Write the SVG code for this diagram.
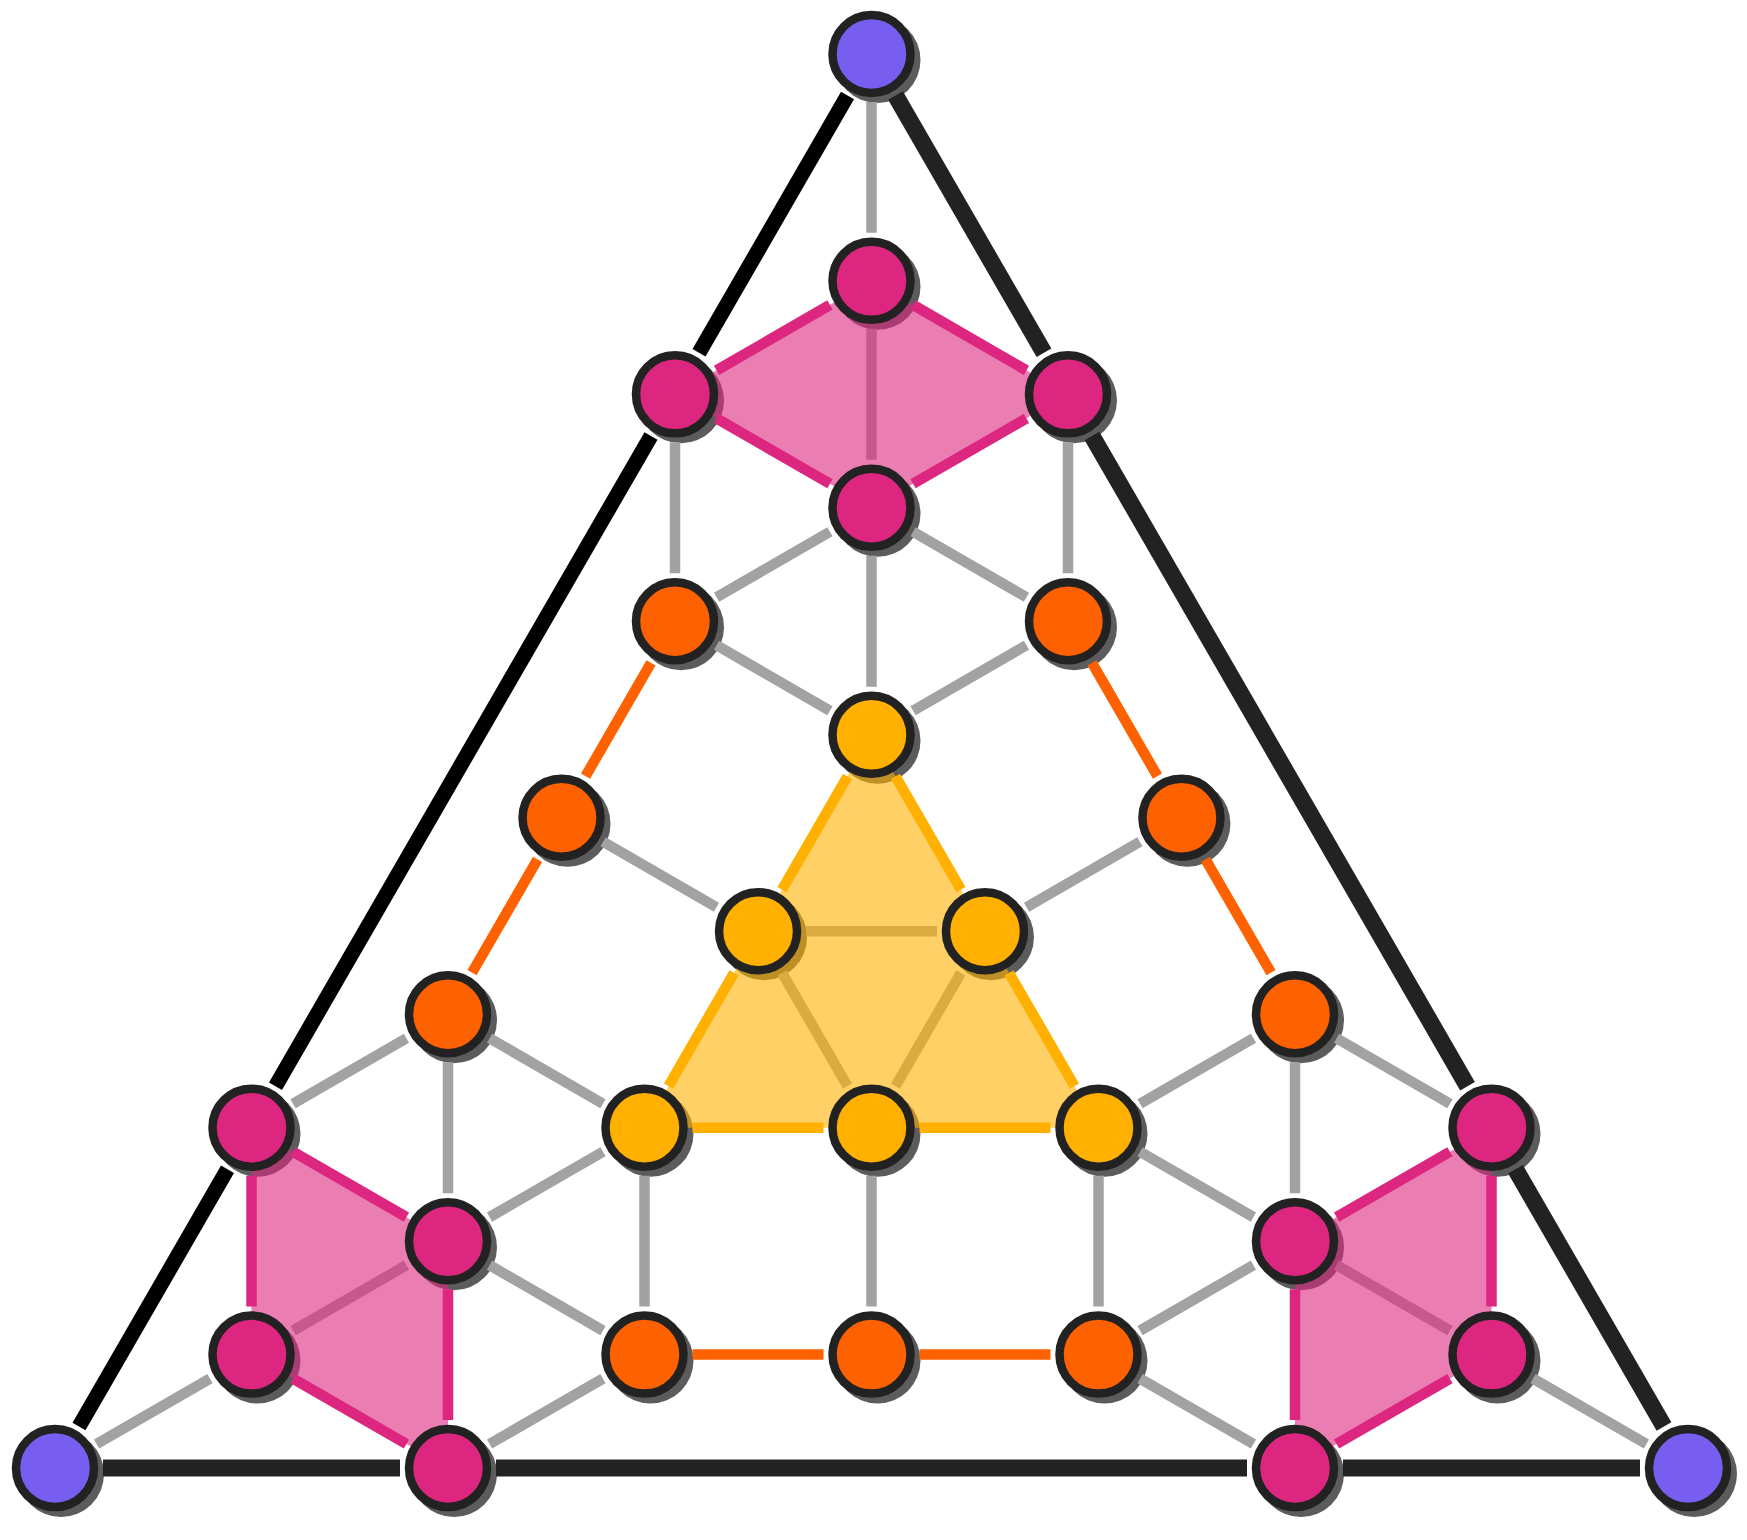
<svg xmlns="http://www.w3.org/2000/svg" width="1747" height="1540" viewBox="0 0 1747 1540">
<style>
.sh{fill:#5c5c5c}
.n{stroke:#222222;stroke-width:8.5}
.pu{fill:#785EF0}
.pk{fill:#DC267F}
.or{fill:#FE6100}
.ye{fill:#FFB000}
.g line{stroke:#a2a2a2;stroke-width:10.5}
.pe line{stroke:#DC267F;stroke-width:10.5}
.oe line{stroke:#FE6100;stroke-width:10.5}
.ys line{stroke:#FFB000;stroke-width:10.5}
.bl line{stroke:#000000;stroke-width:15}
.bk line{stroke:#222222;stroke-width:17}
.fp{fill:#DC267F;fill-opacity:0.6}
.fy{fill:#FFB000;fill-opacity:0.6}
</style>
<rect width="1747" height="1540" fill="#ffffff"/>
<g id="shadows" class="sh">
<circle cx="877.5" cy="60" r="43"/><circle cx="61" cy="1474" r="43"/><circle cx="1694" cy="1474" r="43"/>
<circle cx="877.5" cy="286.85" r="43"/><circle cx="681" cy="400.35" r="43"/><circle cx="1074" cy="400.35" r="43"/><circle cx="877.5" cy="513.8" r="43"/>
<circle cx="257.5" cy="1133.7" r="43"/><circle cx="454" cy="1247.15" r="43"/><circle cx="257.5" cy="1360.6" r="43"/><circle cx="454" cy="1474.05" r="43"/>
<circle cx="1497.5" cy="1133.7" r="43"/><circle cx="1301" cy="1247.15" r="43"/><circle cx="1497.5" cy="1360.6" r="43"/><circle cx="1301" cy="1474.05" r="43"/>
<circle cx="681" cy="627.25" r="43"/><circle cx="1074" cy="627.25" r="43"/><circle cx="567.55" cy="823.75" r="43"/><circle cx="1187.45" cy="823.75" r="43"/>
<circle cx="454" cy="1020.25" r="43"/><circle cx="1301" cy="1020.25" r="43"/><circle cx="650.5" cy="1360.6" r="43"/><circle cx="877.5" cy="1360.6" r="43"/><circle cx="1104.5" cy="1360.6" r="43"/>
<circle cx="877.5" cy="740.7" r="43"/><circle cx="764.05" cy="937.2" r="43"/><circle cx="990.95" cy="937.2" r="43"/><circle cx="650.5" cy="1133.7" r="43"/><circle cx="877.5" cy="1133.7" r="43"/><circle cx="1104.5" cy="1133.7" r="43"/>
</g>
<g id="connectors">
<g class="g">
<line x1="871.5" y1="102" x2="871.5" y2="232.85"/>
<line x1="675" y1="442.35" x2="675" y2="573.25"/>
<line x1="1068" y1="442.35" x2="1068" y2="573.25"/>
<line x1="829.93" y1="531.8" x2="716.57" y2="597.25"/>
<line x1="913.07" y1="531.8" x2="1026.43" y2="597.25"/>
<line x1="871.5" y1="555.8" x2="871.5" y2="686.7"/>
<line x1="716.57" y1="645.25" x2="829.93" y2="710.7"/>
<line x1="1026.43" y1="645.25" x2="913.07" y2="710.7"/>
<line x1="603.12" y1="841.75" x2="716.48" y2="907.2"/>
<line x1="1139.88" y1="841.75" x2="1026.52" y2="907.2"/>
<line x1="406.43" y1="1038.25" x2="293.07" y2="1103.7"/>
<line x1="489.57" y1="1038.25" x2="602.93" y2="1103.7"/>
<line x1="448" y1="1062.25" x2="448" y2="1193.15"/>
<line x1="1336.57" y1="1038.25" x2="1449.93" y2="1103.7"/>
<line x1="1253.43" y1="1038.25" x2="1140.07" y2="1103.7"/>
<line x1="1295" y1="1062.25" x2="1295" y2="1193.15"/>
<line x1="602.93" y1="1151.7" x2="489.57" y2="1217.15"/>
<line x1="644.5" y1="1175.7" x2="644.5" y2="1306.6"/>
<line x1="871.5" y1="1175.7" x2="871.5" y2="1306.6"/>
<line x1="1140.07" y1="1151.7" x2="1253.43" y2="1217.15"/>
<line x1="1098.5" y1="1175.7" x2="1098.5" y2="1306.6"/>
<line x1="489.57" y1="1265.15" x2="602.93" y2="1330.6"/>
<line x1="602.93" y1="1378.6" x2="489.57" y2="1444.05"/>
<line x1="209.93" y1="1378.6" x2="96.57" y2="1444.05"/>
<line x1="1140.07" y1="1330.6" x2="1253.43" y2="1265.15"/>
<line x1="1140.07" y1="1378.6" x2="1253.43" y2="1444.05"/>
<line x1="1533.07" y1="1378.6" x2="1646.43" y2="1444.05"/>
<line x1="871.5" y1="328.85" x2="871.5" y2="459.8"/>
<line x1="293.07" y1="1330.6" x2="406.43" y2="1265.15"/>
<line x1="1336.57" y1="1265.15" x2="1449.93" y2="1330.6"/>
<line x1="806.05" y1="931.2" x2="936.95" y2="931.2"/>
<line x1="782.05" y1="972.77" x2="847.5" y2="1086.13"/>
<line x1="960.95" y1="972.77" x2="895.5" y2="1086.13"/>
</g>
<g id="fills">
<polygon class="fp" points="871.5,280.85 1068,394.35 871.5,507.8 675,394.35"/>
<polygon class="fp" points="251.5,1127.7 448,1241.15 448,1468.05 251.5,1354.6"/>
<polygon class="fp" points="1491.5,1127.7 1295,1241.15 1295,1468.05 1491.5,1354.6"/>
<polygon class="fy" points="871.5,734.7 1098.5,1127.7 644.5,1127.7"/>
</g>
<g class="pe">
<line x1="829.93" y1="304.85" x2="716.57" y2="370.35"/>
<line x1="913.07" y1="304.85" x2="1026.43" y2="370.35"/>
<line x1="716.57" y1="418.35" x2="829.93" y2="483.8"/>
<line x1="1026.43" y1="418.35" x2="913.07" y2="483.8"/>
<line x1="293.07" y1="1151.7" x2="406.43" y2="1217.15"/>
<line x1="448" y1="1289.15" x2="448" y2="1420.05"/>
<line x1="406.43" y1="1444.05" x2="293.07" y2="1378.6"/>
<line x1="251.5" y1="1306.6" x2="251.5" y2="1175.7"/>
<line x1="1449.93" y1="1151.7" x2="1336.57" y2="1217.15"/>
<line x1="1295" y1="1289.15" x2="1295" y2="1420.05"/>
<line x1="1336.57" y1="1444.05" x2="1449.93" y2="1378.6"/>
<line x1="1491.5" y1="1306.6" x2="1491.5" y2="1175.7"/>
</g>
<g class="oe">
<line x1="651" y1="662.82" x2="585.55" y2="776.18"/>
<line x1="537.55" y1="859.32" x2="472" y2="972.68"/>
<line x1="1092" y1="662.82" x2="1157.45" y2="776.18"/>
<line x1="1205.45" y1="859.32" x2="1271" y2="972.68"/>
<line x1="692.5" y1="1354.6" x2="823.5" y2="1354.6"/>
<line x1="919.5" y1="1354.6" x2="1050.5" y2="1354.6"/>
</g>
<g class="ys">
<line x1="847.5" y1="776.27" x2="782.05" y2="889.63"/>
<line x1="734.05" y1="972.77" x2="668.5" y2="1086.13"/>
<line x1="895.5" y1="776.27" x2="960.95" y2="889.63"/>
<line x1="1008.95" y1="972.77" x2="1074.5" y2="1086.13"/>
<line x1="692.5" y1="1127.7" x2="823.5" y2="1127.7"/>
<line x1="919.5" y1="1127.7" x2="1050.5" y2="1127.7"/>
</g>
<g class="bl">
<line x1="847.5" y1="95.57" x2="699" y2="352.78"/>
<line x1="651" y1="435.92" x2="275.5" y2="1086.13"/>
<line x1="227.5" y1="1169.27" x2="79" y2="1426.48"/>
</g>
<g class="bk">
<line x1="895.5" y1="95.57" x2="1044" y2="352.78"/>
<line x1="1092" y1="435.92" x2="1467.5" y2="1086.13"/>
<line x1="1515.5" y1="1169.27" x2="1664" y2="1426.48"/>
<line x1="103" y1="1468.05" x2="400" y2="1468.05"/>
<line x1="496" y1="1468.05" x2="1247" y2="1468.05"/>
<line x1="1343" y1="1468.05" x2="1640" y2="1468.05"/>
</g>
</g>
<g id="n-top"><circle class="n pu" cx="871.5" cy="54" r="39"/></g>
<g id="n-bl"><circle class="n pu" cx="55" cy="1468.05" r="39"/></g>
<g id="n-br"><circle class="n pu" cx="1688" cy="1468.05" r="39"/></g>
<g id="p1"><circle class="n pk" cx="871.5" cy="280.85" r="39"/></g>
<g id="p2"><circle class="n pk" cx="675" cy="394.35" r="39"/></g>
<g id="p3"><circle class="n pk" cx="1068" cy="394.35" r="39"/></g>
<g id="p4"><circle class="n pk" cx="871.5" cy="507.8" r="39"/></g>
<g id="p5"><circle class="n pk" cx="251.5" cy="1127.7" r="39"/></g>
<g id="p6"><circle class="n pk" cx="448" cy="1241.15" r="39"/></g>
<g id="p7"><circle class="n pk" cx="251.5" cy="1354.6" r="39"/></g>
<g id="p8"><circle class="n pk" cx="448" cy="1468.05" r="39"/></g>
<g id="p9"><circle class="n pk" cx="1491.5" cy="1127.7" r="39"/></g>
<g id="p10"><circle class="n pk" cx="1295" cy="1241.15" r="39"/></g>
<g id="p11"><circle class="n pk" cx="1491.5" cy="1354.6" r="39"/></g>
<g id="p12"><circle class="n pk" cx="1295" cy="1468.05" r="39"/></g>
<g id="o1"><circle class="n or" cx="675" cy="621.25" r="39"/></g>
<g id="o2"><circle class="n or" cx="1068" cy="621.25" r="39"/></g>
<g id="o3"><circle class="n or" cx="561.55" cy="817.75" r="39"/></g>
<g id="o4"><circle class="n or" cx="1181.45" cy="817.75" r="39"/></g>
<g id="o5"><circle class="n or" cx="448" cy="1014.25" r="39"/></g>
<g id="o6"><circle class="n or" cx="1295" cy="1014.25" r="39"/></g>
<g id="o7"><circle class="n or" cx="644.5" cy="1354.6" r="39"/></g>
<g id="o8"><circle class="n or" cx="871.5" cy="1354.6" r="39"/></g>
<g id="o9"><circle class="n or" cx="1098.5" cy="1354.6" r="39"/></g>
<g id="y1"><circle class="n ye" cx="871.5" cy="734.7" r="39"/></g>
<g id="y2"><circle class="n ye" cx="758.05" cy="931.2" r="39"/></g>
<g id="y3"><circle class="n ye" cx="984.95" cy="931.2" r="39"/></g>
<g id="y4"><circle class="n ye" cx="644.5" cy="1127.7" r="39"/></g>
<g id="y5"><circle class="n ye" cx="871.5" cy="1127.7" r="39"/></g>
<g id="y6"><circle class="n ye" cx="1098.5" cy="1127.7" r="39"/></g>
</svg>
